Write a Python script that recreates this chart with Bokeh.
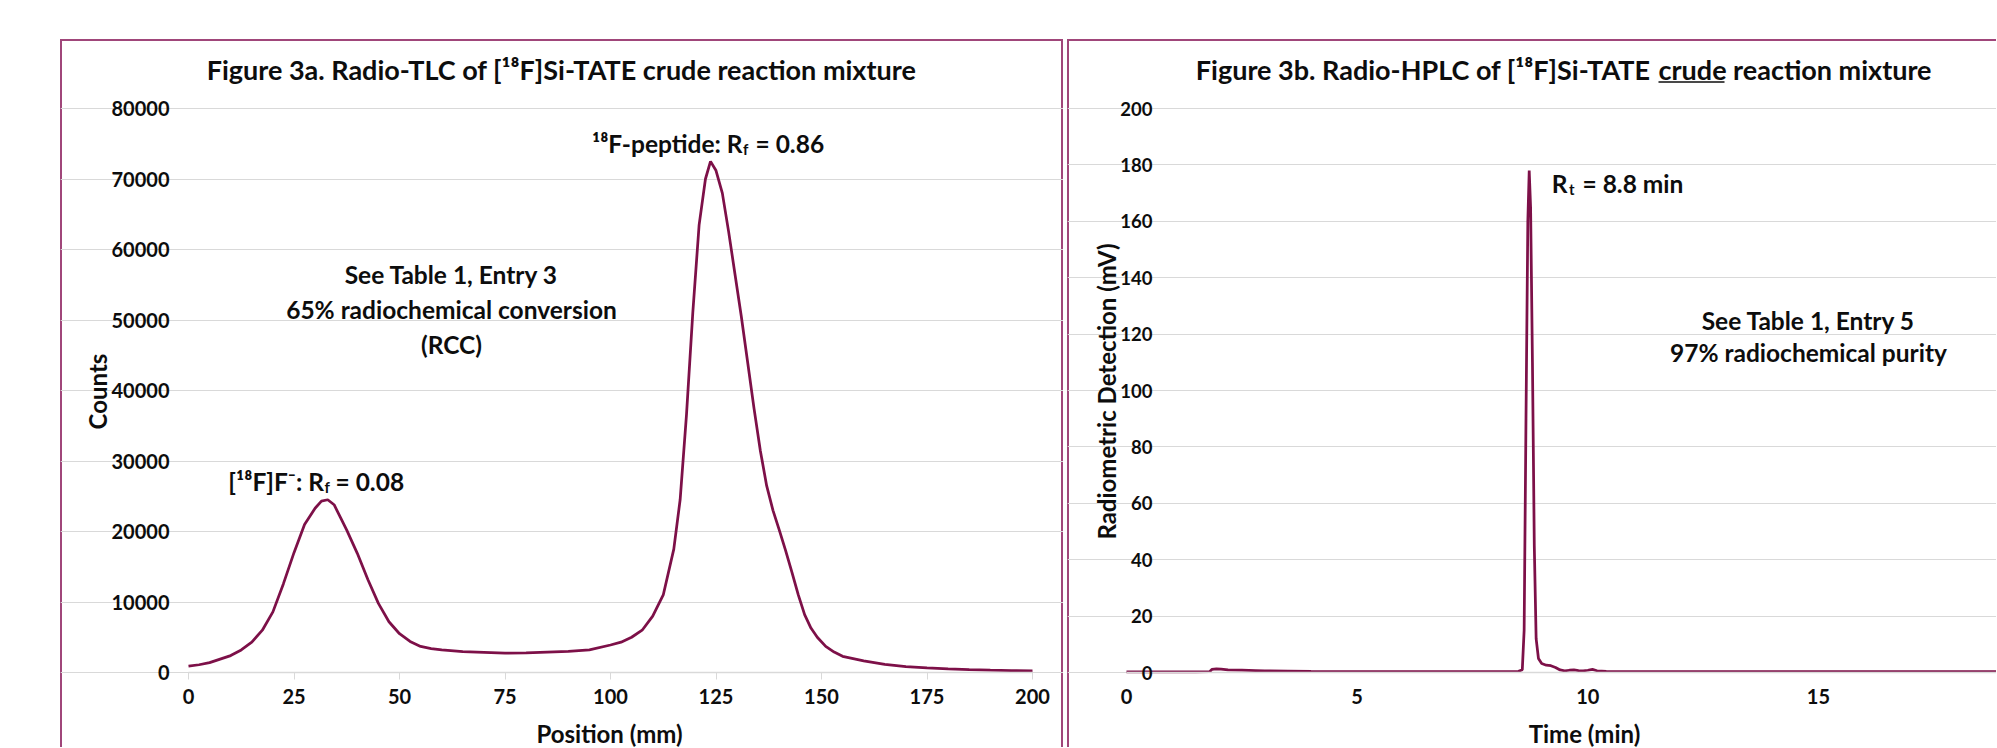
import math
from bokeh.plotting import figure
from bokeh.models import Label, Range1d, FixedTicker, NumeralTickFormatter, Spacer
from bokeh.layouts import row, column
from bokeh.embed import file_html
from bokeh.resources import INLINE

# ---------------- data ----------------
tlc_position = [0, 2.5, 5, 7.5, 10, 12.5, 15, 17.5, 20, 22.5, 25, 27.5, 30, 31.5, 33,
                34.5, 36, 37.5, 40, 42.5, 45, 47.5, 50, 52.5, 55, 57.5, 60, 65, 70, 75,
                80, 85, 90, 95, 100, 102.5, 105, 107.5, 110, 112.5, 115, 116.5, 118, 119.5, 121,
                122.5, 123.7, 125, 126.5, 128, 129.5, 131, 132.5, 134, 135.5, 137, 138.5, 140, 141.5, 143,
                144.5, 146, 147.5, 149, 151, 153, 155, 160, 165, 170, 175, 180, 185, 190, 195, 200]
tlc_counts = [900, 1100, 1400, 1900, 2400, 3200, 4300, 6000, 8600, 12600, 17000, 21000, 23300, 24300, 24500,
              23800, 22000, 20200, 16900, 13200, 9800, 7200, 5500, 4400, 3700, 3400, 3200, 2950, 2850, 2750,
              2800, 2900, 3000, 3200, 3900, 4300, 5000, 6000, 8000, 11000, 17500, 24500, 36500, 51000, 63500,
              70000, 72500, 71200, 68000, 62500, 56500, 50500, 44000, 37500, 31500, 26500, 23000, 20200, 17300, 14200,
              11000, 8200, 6300, 5000, 3700, 2900, 2300, 1650, 1150, 850, 650, 500, 400, 330, 270, 220]

hplc_time = [0, 0.5, 1.0, 1.5, 1.8, 1.85, 1.95, 2.05, 2.2, 2.5, 2.8, 3.0, 3.5, 4, 5, 6, 7, 8, 8.5, 8.58,
             8.62, 8.66, 8.70, 8.73, 8.76, 8.80, 8.84, 8.88, 8.93, 9.0, 9.1, 9.2, 9.3, 9.4, 9.5,
             9.6, 9.7, 9.8, 9.9, 10.0, 10.1, 10.2, 10.4, 10.6, 11, 12, 13, 14, 15, 16, 17, 18, 19, 20]
hplc_mv = [0.2, 0.2, 0.2, 0.25, 0.3, 1.1, 1.3, 1.2, 0.9, 0.8, 0.7, 0.6, 0.5, 0.4, 0.3, 0.3, 0.3, 0.3, 0.4, 1.0,
           15, 90, 160, 178, 165, 110, 45, 12, 5, 3.2, 2.6, 2.4, 1.8, 0.9, 0.6,
           0.8, 0.9, 0.7, 0.6, 0.8, 1.1, 0.6, 0.4, 0.3, 0.3, 0.3, 0.3, 0.3, 0.3, 0.3, 0.3, 0.3, 0.3, 0.3]

tlc_x_ticks = [0, 25, 50, 75, 100, 125, 150, 175, 200]
tlc_y_ticks = [0, 10000, 20000, 30000, 40000, 50000, 60000, 70000, 80000]
hplc_x_ticks = [0, 5, 10, 15, 20]
hplc_y_ticks = [0, 20, 40, 60, 80, 100, 120, 140, 160, 180, 200]

# ---------------- style / layout (page pixels) ----------------
FONT = "Lato"
INK = "#0d0d0d"
CURVE = "#7d1048"
FRAME = "#a0467a"
GRID = "#d9d9d9"
ANN = 24.5                       # annotation font size (px)

TOP, BOT = 39, 747
P1_L, P1_R = 60, 1063
P2_L, P2_R = 1067, 1996
F_TOP, F_BOT = 108, 672          # pixel rows of the top / zero gridlines
F1_L, F1_R = 188, 1032           # pixel columns of 0 mm / 200 mm
F2_L = 1126                      # pixel column of 0 min
PX_PER_MIN = 46.13


def X1(px):
    return (px - F1_L) / (F1_R - F1_L) * 200.0


def Y1(py):
    return (F_BOT - py) / (F_BOT - F_TOP) * 80000.0


def X2(px):
    return (px - F2_L) / PX_PER_MIN


def Y2(py):
    return (F_BOT - py) / (F_BOT - F_TOP) * 200.0


def put(p, X, Y, text, px, py, size, align="left", baseline="alphabetic", angle=0.0):
    p.add_layout(Label(x=X(px), y=Y(py), text=text, text_font=FONT, text_font_size=f"{size}px",
                       text_font_style="bold", text_color=INK, text_align=align,
                       text_baseline=baseline, angle=angle))


def sub(p, X, Y, text, px, base, size):
    put(p, X, Y, text, px, base + 0.24 * size, round(0.62 * size))


def style_axis(ax, size="20px"):
    ax.major_label_text_font = FONT
    ax.major_label_text_font_size = size
    ax.major_label_text_font_style = "bold"
    ax.major_label_text_color = INK
    ax.minor_tick_line_color = None


def make_fig(left, right, X, Y, box_shadow):
    return figure(width=right - left, height=BOT - TOP, title=None, output_backend="svg",
                  toolbar_location=None,
                  x_range=Range1d(X(left), X(right)), y_range=Range1d(Y(BOT), Y(TOP)),
                  min_border_left=0, min_border_right=0, min_border_top=0, min_border_bottom=0,
                  border_fill_color=None, background_fill_color=None, outline_line_color=None,
                  styles={"box-shadow": box_shadow})


# ---------------- Figure 3a ----------------
p1 = make_fig(P1_L, P1_R, X1, Y1, f"inset 2px 2px 0 0 {FRAME}, inset -2px 0 0 0 {FRAME}")

xa = p1.xaxis[0]
xa.fixed_location = 0
xa.bounds = (0, 200)
xa.ticker = FixedTicker(ticks=tlc_x_ticks)
xa.axis_line_color = GRID
xa.axis_line_width = 1.3
xa.major_tick_line_color = GRID
xa.major_tick_out = 7
xa.major_tick_in = 0
xa.major_label_standoff = 9
style_axis(xa)

ya = p1.yaxis[0]
ya.fixed_location = 0
ya.bounds = (0, 80000)
ya.ticker = FixedTicker(ticks=tlc_y_ticks)
ya.formatter = NumeralTickFormatter(format="0")
ya.axis_line_color = None
ya.major_tick_line_color = None
ya.major_tick_out = 0
ya.major_label_standoff = 19
style_axis(ya)

p1.xgrid.visible = False
p1.ygrid.ticker = FixedTicker(ticks=tlc_y_ticks)
p1.ygrid.bounds = (0, 200)
p1.ygrid.grid_line_color = GRID
p1.ygrid.grid_line_width = 1.2

p1.line(tlc_position, tlc_counts, line_color=CURVE, line_width=2.75)

put(p1, X1, Y1, "Figure 3a. Radio-TLC of [\u00b9\u2078F]Si-TATE crude reaction mixture", 561, 69, 27,
    align="center")
put(p1, X1, Y1, "Counts", 97, 391, 24, align="center", baseline="middle", angle=math.pi / 2)
put(p1, X1, Y1, "Position (mm)", 609, 733, 24, align="center", baseline="middle")

put(p1, X1, Y1, "[\u00b9\u2078F]F\u207b: R", 323.5, 480.5, ANN, align="right")
sub(p1, X1, Y1, "f", 324, 480.5, ANN)
put(p1, X1, Y1, "= 0.08", 335, 480.5, ANN)

put(p1, X1, Y1, "\u00b9\u2078F-peptide: R", 742, 142.5, ANN, align="right")
sub(p1, X1, Y1, "f", 742.5, 142.5, ANN)
put(p1, X1, Y1, "= 0.86", 755, 142.5, ANN)

put(p1, X1, Y1, "See Table 1, Entry 3", 451, 273.5, ANN, align="center")
put(p1, X1, Y1, "65% radiochemical conversion", 451, 309, ANN, align="center")
put(p1, X1, Y1, "(RCC)", 451, 344, ANN, align="center")

# ---------------- Figure 3b ----------------
p2 = make_fig(P2_L, P2_R, X2, Y2, f"inset 2px 2px 0 0 {FRAME}")

xb = p2.xaxis[0]
xb.fixed_location = 0
xb.bounds = (0, X2(P2_R))
xb.ticker = FixedTicker(ticks=hplc_x_ticks)
xb.axis_line_color = GRID
xb.axis_line_width = 1.3
xb.major_tick_line_color = None
xb.major_tick_out = 7
xb.major_tick_in = 0
xb.major_label_standoff = 9
style_axis(xb)

p2.yaxis.visible = False
p2.xgrid.visible = False
p2.ygrid.ticker = FixedTicker(ticks=hplc_y_ticks)
p2.ygrid.bounds = (X2(1157), X2(P2_R))
p2.ygrid.grid_line_color = GRID
p2.ygrid.grid_line_width = 1.2

p2.line(hplc_time, hplc_mv, line_color=CURVE, line_width=2.75)

for t in hplc_y_ticks:
    p2.add_layout(Label(x=X2(1152), y=t, text=str(t), text_font=FONT, text_font_size="18.5px",
                        text_font_style="bold", text_color=INK, text_align="right",
                        text_baseline="middle"))

put(p2, X2, Y2, "Figure 3b. Radio-HPLC of [\u00b9\u2078F]Si-TATE", 1650, 69, 27, align="right")
put(p2, X2, Y2, "crude reaction mixture", 1658, 69, 27)
p2.segment(x0=[X2(1658)], x1=[X2(1724)], y0=[Y2(81.5)], y1=[Y2(81.5)],
           line_color=INK, line_width=1.6)

put(p2, X2, Y2, "Radiometric Detection (mV)", 1105.5, 391, 24, align="center", baseline="middle",
    angle=math.pi / 2)
put(p2, X2, Y2, "Time (min)", 1584, 733, 24, align="center", baseline="middle")

put(p2, X2, Y2, "R", 1567, 182.5, ANN, align="right")
sub(p2, X2, Y2, "t", 1568.5, 182.5, ANN)
put(p2, X2, Y2, "= 8.8 min", 1582, 182.5, ANN)

put(p2, X2, Y2, "See Table 1, Entry 5", 1808, 319.5, ANN, align="center")
put(p2, X2, Y2, "97% radiochemical purity", 1808, 351.5, ANN, align="center")

layout = column(Spacer(height=TOP),
                row(Spacer(width=P1_L), p1, Spacer(width=P2_L - P1_R), p2))

open("out.html", "w").write(file_html(layout, INLINE))
